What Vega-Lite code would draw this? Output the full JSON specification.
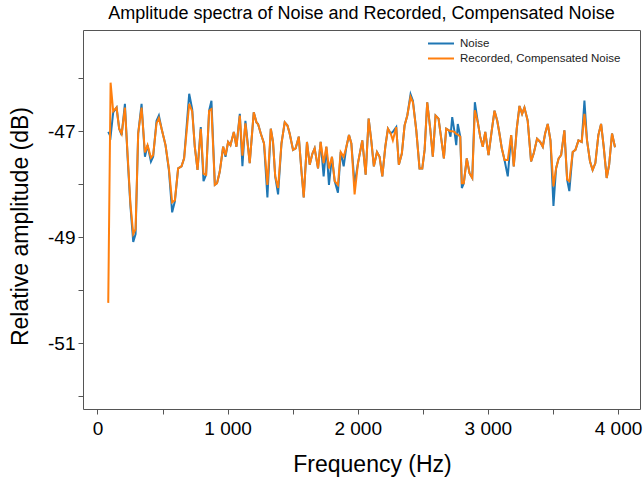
{
  "$schema": "https://vega.github.io/schema/vega-lite/v6.json",
  "autosize": "none",
  "width": 557,
  "height": 379,
  "padding": {"left": 83, "top": 30, "right": 4, "bottom": 70},
  "background": "white",
  "title": {"text": "Amplitude spectra of Noise and Recorded, Compensated Noise", "font": "Liberation Sans", "fontSize": 18, "fontWeight": "normal", "color": "#000000", "offset": 7, "anchor": "middle"},
  "data": {"values": [
    {"f":83,"n":-47.01,"r":-50.24},{"f":101,"n":-47.10,"r":-46.08},{"f":121,"n":-46.64,"r":-46.62},{"f":147,"n":-46.55,"r":-46.55},{"f":167,"n":-46.95,"r":-46.95},{"f":186,"n":-47.07,"r":-47.05},{"f":211,"n":-46.48,"r":-46.55},{"f":232,"n":-47.50,"r":-47.45},{"f":253,"n":-48.40,"r":-48.35},{"f":275,"n":-49.09,"r":-48.94},{"f":293,"n":-48.94,"r":-48.85},{"f":313,"n":-47.04,"r":-47.04},{"f":339,"n":-46.48,"r":-46.55},{"f":365,"n":-47.48,"r":-47.40},{"f":385,"n":-47.26,"r":-47.26},{"f":411,"n":-47.57,"r":-47.50},{"f":428,"n":-47.48,"r":-47.45},{"f":454,"n":-46.80,"r":-46.85},{"f":472,"n":-46.70,"r":-46.75},{"f":493,"n":-46.95,"r":-46.95},{"f":523,"n":-47.26,"r":-47.26},{"f":549,"n":-47.73,"r":-47.70},{"f":574,"n":-48.53,"r":-48.34},{"f":595,"n":-48.32,"r":-48.30},{"f":620,"n":-47.70,"r":-47.70},{"f":646,"n":-47.66,"r":-47.66},{"f":666,"n":-47.51,"r":-47.51},{"f":705,"n":-46.29,"r":-46.48},{"f":728,"n":-46.58,"r":-46.62},{"f":748,"n":-47.29,"r":-47.29},{"f":769,"n":-47.73,"r":-47.73},{"f":794,"n":-46.92,"r":-46.95},{"f":815,"n":-47.94,"r":-47.80},{"f":835,"n":-47.82,"r":-47.82},{"f":858,"n":-46.61,"r":-46.61},{"f":876,"n":-46.42,"r":-46.58},{"f":902,"n":-48.01,"r":-48.01},{"f":919,"n":-47.98,"r":-47.98},{"f":940,"n":-47.76,"r":-47.76},{"f":966,"n":-47.29,"r":-47.29},{"f":984,"n":-47.48,"r":-47.45},{"f":1004,"n":-47.20,"r":-47.20},{"f":1022,"n":-47.26,"r":-47.26},{"f":1048,"n":-47.01,"r":-47.01},{"f":1068,"n":-47.29,"r":-47.29},{"f":1094,"n":-46.67,"r":-46.70},{"f":1114,"n":-47.66,"r":-47.46},{"f":1137,"n":-46.80,"r":-46.85},{"f":1170,"n":-47.60,"r":-47.60},{"f":1201,"n":-46.64,"r":-46.64},{"f":1222,"n":-46.83,"r":-46.83},{"f":1234,"n":-46.86,"r":-46.86},{"f":1255,"n":-47.04,"r":-47.04},{"f":1280,"n":-47.23,"r":-47.23},{"f":1306,"n":-48.25,"r":-48.01},{"f":1332,"n":-46.95,"r":-46.95},{"f":1349,"n":-47.20,"r":-47.20},{"f":1366,"n":-47.85,"r":-47.85},{"f":1388,"n":-48.19,"r":-48.07},{"f":1414,"n":-47.23,"r":-47.23},{"f":1439,"n":-46.83,"r":-46.83},{"f":1460,"n":-46.89,"r":-46.89},{"f":1477,"n":-47.04,"r":-47.04},{"f":1503,"n":-47.35,"r":-47.35},{"f":1523,"n":-47.32,"r":-47.32},{"f":1547,"n":-47.10,"r":-47.10},{"f":1567,"n":-47.73,"r":-47.73},{"f":1585,"n":-48.25,"r":-48.25},{"f":1610,"n":-47.20,"r":-47.20},{"f":1631,"n":-47.63,"r":-47.63},{"f":1652,"n":-47.42,"r":-47.42},{"f":1669,"n":-47.32,"r":-47.32},{"f":1695,"n":-47.70,"r":-47.70},{"f":1715,"n":-47.20,"r":-47.20},{"f":1738,"n":-47.85,"r":-47.60},{"f":1759,"n":-47.29,"r":-47.29},{"f":1779,"n":-48.01,"r":-47.70},{"f":1802,"n":-47.48,"r":-47.48},{"f":1823,"n":-47.94,"r":-47.94},{"f":1848,"n":-48.16,"r":-48.01},{"f":1869,"n":-47.39,"r":-47.39},{"f":1892,"n":-47.66,"r":-47.48},{"f":1913,"n":-47.29,"r":-47.29},{"f":1933,"n":-47.07,"r":-47.07},{"f":1951,"n":-47.23,"r":-47.23},{"f":1976,"n":-48.00,"r":-48.19},{"f":2002,"n":-47.60,"r":-47.60},{"f":2035,"n":-47.17,"r":-47.17},{"f":2061,"n":-47.82,"r":-47.82},{"f":2084,"n":-46.76,"r":-46.76},{"f":2104,"n":-47.17,"r":-47.17},{"f":2124,"n":-47.66,"r":-47.66},{"f":2148,"n":-47.39,"r":-47.39},{"f":2168,"n":-47.48,"r":-47.48},{"f":2189,"n":-47.85,"r":-47.85},{"f":2212,"n":-47.29,"r":-47.29},{"f":2232,"n":-46.95,"r":-46.95},{"f":2253,"n":-47.04,"r":-47.04},{"f":2270,"n":-47.01,"r":-47.17},{"f":2296,"n":-46.92,"r":-46.92},{"f":2316,"n":-47.63,"r":-47.63},{"f":2339,"n":-47.42,"r":-47.42},{"f":2360,"n":-46.89,"r":-46.89},{"f":2381,"n":-46.70,"r":-46.70},{"f":2406,"n":-46.30,"r":-46.35},{"f":2424,"n":-46.42,"r":-46.45},{"f":2450,"n":-46.98,"r":-46.98},{"f":2475,"n":-47.70,"r":-47.70},{"f":2496,"n":-47.70,"r":-47.70},{"f":2514,"n":-47.35,"r":-47.35},{"f":2534,"n":-46.45,"r":-46.45},{"f":2557,"n":-46.95,"r":-46.95},{"f":2577,"n":-47.48,"r":-47.48},{"f":2598,"n":-46.70,"r":-46.70},{"f":2621,"n":-46.76,"r":-46.76},{"f":2642,"n":-47.14,"r":-47.14},{"f":2662,"n":-47.51,"r":-47.51},{"f":2680,"n":-46.95,"r":-46.95},{"f":2700,"n":-46.98,"r":-46.98},{"f":2713,"n":-47.10,"r":-47.00},{"f":2726,"n":-46.73,"r":-47.00},{"f":2744,"n":-47.01,"r":-47.01},{"f":2757,"n":-47.26,"r":-47.05},{"f":2769,"n":-46.86,"r":-47.06},{"f":2788,"n":-47.10,"r":-47.10},{"f":2800,"n":-48.07,"r":-47.98},{"f":2815,"n":-47.98,"r":-47.98},{"f":2838,"n":-47.51,"r":-47.51},{"f":2859,"n":-47.79,"r":-47.79},{"f":2880,"n":-47.88,"r":-47.88},{"f":2900,"n":-46.45,"r":-46.60},{"f":2923,"n":-46.83,"r":-46.83},{"f":2941,"n":-47.10,"r":-47.10},{"f":2961,"n":-47.29,"r":-47.29},{"f":2980,"n":-47.01,"r":-47.01},{"f":3005,"n":-47.45,"r":-47.45},{"f":3030,"n":-46.98,"r":-46.98},{"f":3051,"n":-46.61,"r":-46.61},{"f":3072,"n":-46.80,"r":-46.80},{"f":3089,"n":-47.04,"r":-47.04},{"f":3107,"n":-47.32,"r":-47.32},{"f":3128,"n":-47.54,"r":-47.54},{"f":3153,"n":-47.85,"r":-47.54},{"f":3179,"n":-47.07,"r":-47.07},{"f":3199,"n":-47.66,"r":-47.66},{"f":3222,"n":-46.95,"r":-46.95},{"f":3243,"n":-46.52,"r":-46.52},{"f":3263,"n":-46.67,"r":-46.67},{"f":3281,"n":-46.55,"r":-46.55},{"f":3306,"n":-46.80,"r":-46.80},{"f":3332,"n":-47.57,"r":-47.57},{"f":3352,"n":-47.42,"r":-47.42},{"f":3378,"n":-47.14,"r":-47.14},{"f":3402,"n":-47.20,"r":-47.20},{"f":3422,"n":-47.29,"r":-47.29},{"f":3440,"n":-47.04,"r":-47.04},{"f":3460,"n":-46.86,"r":-46.86},{"f":3481,"n":-47.17,"r":-47.17},{"f":3504,"n":-48.41,"r":-48.04},{"f":3524,"n":-47.70,"r":-47.70},{"f":3544,"n":-47.51,"r":-47.51},{"f":3563,"n":-47.45,"r":-47.45},{"f":3588,"n":-46.98,"r":-46.98},{"f":3609,"n":-47.91,"r":-47.91},{"f":3626,"n":-48.13,"r":-47.94},{"f":3652,"n":-47.39,"r":-47.39},{"f":3673,"n":-47.35,"r":-47.35},{"f":3696,"n":-47.17,"r":-47.17},{"f":3721,"n":-47.20,"r":-47.20},{"f":3742,"n":-46.42,"r":-46.67},{"f":3762,"n":-47.17,"r":-47.17},{"f":3785,"n":-47.57,"r":-47.57},{"f":3805,"n":-47.73,"r":-47.73},{"f":3826,"n":-47.60,"r":-47.60},{"f":3849,"n":-47.07,"r":-47.07},{"f":3870,"n":-46.86,"r":-46.86},{"f":3890,"n":-47.29,"r":-47.29},{"f":3913,"n":-47.88,"r":-47.88},{"f":3932,"n":-47.63,"r":-47.63},{"f":3954,"n":-47.04,"r":-47.04},{"f":3977,"n":-47.30,"r":-47.30}
  ]},
  "transform": [{"fold": ["n", "r"], "as": ["series", "value"]}],
  "mark": {"type": "line", "strokeWidth": 2},
  "encoding": {
    "x": {
      "field": "f", "type": "quantitative",
      "scale": {"domain": [-111, 4169], "nice": false, "zero": false},
      "axis": {
        "values": [0, 500, 1000, 1500, 2000, 2500, 3000, 3500, 4000],
        "labelExpr": "datum.value % 1000 == 0 ? replace(format(datum.value, ','), ',', ' ') : ''",
        "title": "Frequency (Hz)",
        "titleX": 289,
        "labelPadding": 5,
        "titlePadding": 15
      }
    },
    "y": {
      "field": "value", "type": "quantitative",
      "scale": {"domain": [-52.245, -45.085], "nice": false, "zero": false},
      "axis": {
        "values": [-52, -51, -50, -49, -48, -47, -46],
        "labelExpr": "(datum.value == -47 || datum.value == -49 || datum.value == -51) ? ('' + datum.value) : ''",
        "title": "Relative amplitude (dB)",
        "titleY": 196,
        "labelPadding": 3,
        "titlePadding": 15
      }
    },
    "color": {
      "field": "series", "type": "nominal",
      "scale": {"domain": ["n", "r"], "range": ["#1f77b4", "#ff7f0e"]},
      "legend": {
        "title": null,
        "orient": "none",
        "legendX": 344,
        "legendY": 6,
        "labelExpr": "datum.label == 'n' ? 'Noise' : 'Recorded, Compensated Noise'",
        "symbolType": "stroke",
        "symbolSize": 676,
        "symbolStrokeWidth": 2,
        "clipHeight": 15,
        "rowPadding": 0,
        "labelOffset": 5,
        "labelFont": "Liberation Sans",
        "labelFontSize": 11.5,
        "labelColor": "#222222",
        "labelLimit": 0,
        "padding": 0
      }
    }
  },
  "config": {
    "view": {"stroke": "#555555", "strokeWidth": 1},
    "axis": {
      "grid": false,
      "domain": false,
      "ticks": true,
      "tickColor": "#555555",
      "tickSize": 5,
      "tickWidth": 1,
      "labelFont": "Liberation Sans",
      "labelFontSize": 19,
      "labelColor": "#000000",
      "titleFont": "Liberation Sans",
      "titleFontSize": 23,
      "titleFontWeight": "normal",
      "titleColor": "#000000"
    }
  }
}
